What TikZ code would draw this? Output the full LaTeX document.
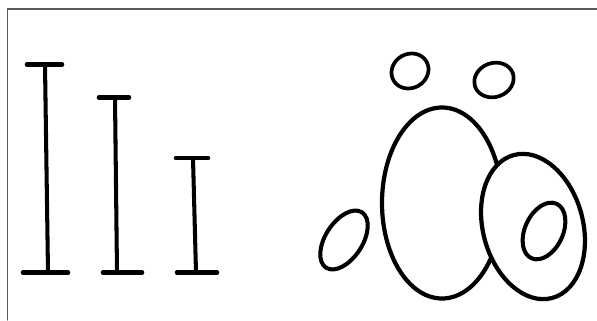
\documentclass[tikz,border=0pt]{standalone}
\begin{document}
\begin{tikzpicture}[line cap=round,line join=round]
  \useasboundingbox (0,0) rectangle (11.94,6.4);
  \draw[line width=0.8pt,gray!70!black] (0.15,0) -- (0.15,6.22) -- (11.94,6.22);
  % bars
  \draw[line width=2.6pt] (0.54,5.11) -- (1.24,5.11);
  \draw[line width=2.3pt] (0.90,5.11) -- (0.96,0.95);
  \draw[line width=2.6pt] (0.46,0.95) -- (1.36,0.95);
  \draw[line width=2.6pt] (1.98,4.45) -- (2.58,4.45);
  \draw[line width=2.3pt] (2.30,4.45) -- (2.34,0.95);
  \draw[line width=2.6pt] (2.06,0.95) -- (2.84,0.95);
  \draw[line width=2.6pt] (3.52,3.24) -- (4.16,3.24);
  \draw[line width=2.3pt] (3.86,3.24) -- (3.92,0.95);
  \draw[line width=2.6pt] (3.54,0.95) -- (4.34,0.95);
  % ellipses
  \draw[line width=2.1pt,rotate around={30:(8.20,4.98)}] (8.20,4.98) ellipse (0.38 and 0.34);
  \draw[line width=2.1pt,rotate around={20:(9.88,4.80)}] (9.88,4.80) ellipse (0.40 and 0.34);
  \draw[line width=2.3pt,rotate around={57:(6.88,1.60)}] (6.88,1.60) ellipse (0.66 and 0.37);
  \draw[line width=2.4pt] (8.84,2.34) ellipse (1.20 and 1.91);
  \draw[line width=2.4pt,fill=white,rotate around={15:(10.66,1.87)}] (10.66,1.87) ellipse (1.00 and 1.48);
  \draw[line width=2.3pt,rotate around={65:(10.88,1.78)}] (10.88,1.78) ellipse (0.60 and 0.38);
\end{tikzpicture}
\end{document}
